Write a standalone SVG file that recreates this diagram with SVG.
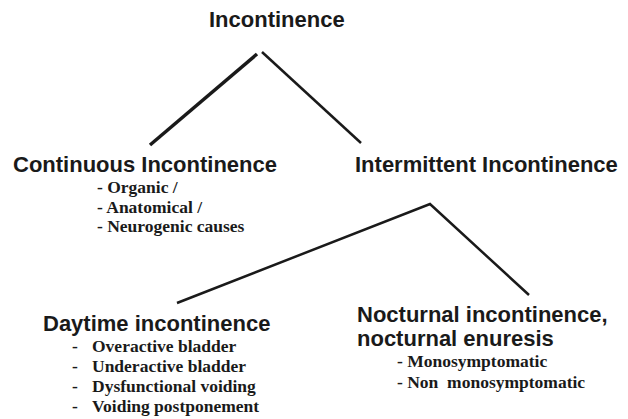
<svg xmlns="http://www.w3.org/2000/svg" width="628" height="419" viewBox="0 0 628 419">
<style>
.h{font-family:"Liberation Sans",Arial,sans-serif;font-weight:bold;font-size:22px;fill:#1a1a1a}
.s{font-family:"Liberation Serif","Times New Roman",serif;font-weight:bold;font-size:17.5px;fill:#1a1a1a;white-space:pre}
.c{stroke:#1a1a1a;fill:none;stroke-linecap:butt}
</style>
<rect width="628" height="419" fill="#fff"/>
<g id="connectors">
<line class="c" x1="257" y1="54" x2="150" y2="145" stroke-width="3.5"/>
<line class="c" x1="262" y1="52" x2="361" y2="143" stroke-width="2.5"/>
<polyline class="c" points="177,303 430,204 529,295" stroke-width="2.5"/>
</g>
<g id="incontinence">
<text class="h" x="209" y="27">Incontinence</text>
</g>
<g id="continuous">
<text class="h" x="13" y="172">Continuous Incontinence</text>
<text class="s" x="97" y="193">- Organic /</text>
<text class="s" x="97" y="213">- Anatomical /</text>
<text class="s" x="97" y="232">- Neurogenic causes</text>
</g>
<g id="intermittent">
<text class="h" x="355" y="172">Intermittent Incontinence</text>
</g>
<g id="daytime">
<text class="h" x="43" y="331">Daytime incontinence</text>
<text class="s" x="72" y="352">-</text><text class="s" x="92" y="352">Overactive bladder</text>
<text class="s" x="72" y="372">-</text><text class="s" x="92" y="372">Underactive bladder</text>
<text class="s" x="72" y="392">-</text><text class="s" x="92" y="392">Dysfunctional voiding</text>
<text class="s" x="72" y="412">-</text><text class="s" x="92" y="412">Voiding postponement</text>
</g>
<g id="nocturnal">
<text class="h" x="357" y="322">Nocturnal incontinence,</text>
<text class="h" x="357" y="346">nocturnal enuresis</text>
<text class="s" x="397" y="367">- Monosymptomatic</text>
<text class="s" x="397" y="388">- Non  monosymptomatic</text>
</g>
</svg>
